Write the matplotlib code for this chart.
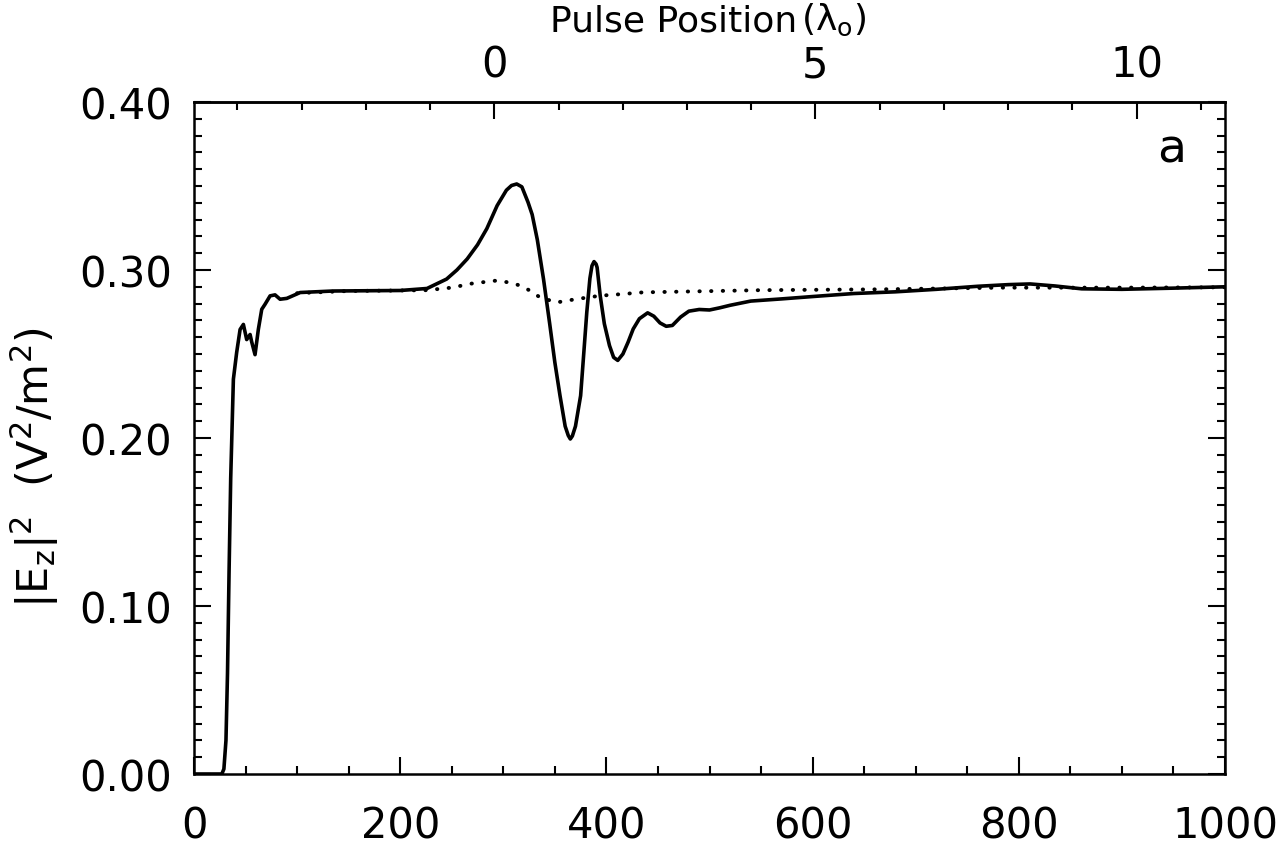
import numpy as np
import matplotlib.pyplot as plt
from matplotlib.ticker import MultipleLocator, FormatStrFormatter, FixedLocator

plt.rcParams['font.family'] = 'DejaVu Sans'
plt.rcParams['mathtext.default'] = 'regular'

# solid curve
solid_x = [0, 20, 27, 29, 31, 32.5, 34, 35.6, 38.2, 41.4, 44.7, 47.9, 51.1, 54.4, 56,
           59.2, 62.4, 65.7, 68.9, 73.8, 78.6, 83.5, 90, 103, 135, 200, 226, 245, 255,
           265, 275, 284, 294, 303, 308, 313, 318, 324, 328, 333, 339, 345, 350, 355,
           360, 363, 365, 367, 370, 375, 378, 381, 384, 386, 388, 390, 391, 394, 398,
           403, 407, 411, 416, 421, 426, 432, 440, 446, 452, 458, 464, 472, 480, 490,
           500, 510, 520, 540, 570, 600, 640, 680, 720, 760, 790, 811, 835, 861, 900,
           950, 1000]
solid_y = [0.0, 0.0, 0.0, 0.003, 0.02, 0.06, 0.12, 0.176, 0.235, 0.251, 0.2646, 0.2676,
           0.2586, 0.2616, 0.2571, 0.2496, 0.2646, 0.2766, 0.2796, 0.2846, 0.2852, 0.2826,
           0.2831, 0.2866, 0.2875, 0.2878, 0.289, 0.2946, 0.300, 0.3066, 0.315, 0.3246,
           0.3383, 0.3475, 0.3503, 0.3512, 0.3495, 0.3403, 0.333, 0.318, 0.2946, 0.268,
           0.245, 0.2252, 0.207, 0.2015, 0.1994, 0.2012, 0.207, 0.2252, 0.250, 0.275,
           0.295, 0.3025, 0.305, 0.3035, 0.3015, 0.2847, 0.268, 0.255, 0.248, 0.2462,
           0.250, 0.257, 0.2649, 0.271, 0.2745, 0.2725, 0.2685, 0.2665, 0.267, 0.272,
           0.2755, 0.2765, 0.2762, 0.2775, 0.279, 0.2815, 0.2828, 0.2842, 0.286, 0.287,
           0.2885, 0.2903, 0.2913, 0.2917, 0.2905, 0.2888, 0.2885, 0.2892, 0.290]

# dotted curve
dot_x = [100, 150, 200, 226, 250, 270, 293.6, 306.5, 316, 326, 335.6, 351.8, 371, 394,
         416, 435.5, 550, 666, 784, 900, 1000]
dot_y = [0.2862, 0.2875, 0.2878, 0.2880, 0.2895, 0.2920, 0.2937, 0.2925, 0.2908, 0.2877,
         0.2837, 0.2807, 0.2827, 0.2847, 0.2857, 0.2867, 0.288, 0.2885, 0.2895, 0.2895,
         0.2897]

pos_ticks = [0, 5, 10]

fig = plt.figure(figsize=(12.88, 8.53), dpi=100)
ax = fig.add_axes([194 / 1288, 1 - 775 / 853, (1225 - 194) / 1288, (775 - 103) / 853])

ax.plot(solid_x, solid_y, color='black', lw=2.6)
ax.plot(dot_x, dot_y, color='black', lw=2.8, linestyle=(0, (0.1, 2.9)),
        dash_capstyle='round')

ax.set_xlim(0, 1000)
ax.set_ylim(0, 0.40)
ax.xaxis.set_major_locator(MultipleLocator(200))
ax.xaxis.set_minor_locator(MultipleLocator(50))
ax.yaxis.set_major_locator(MultipleLocator(0.1))
ax.yaxis.set_minor_locator(MultipleLocator(0.01))
ax.yaxis.set_major_formatter(FormatStrFormatter('%.2f'))

for s in ax.spines.values():
    s.set_linewidth(1.8)
ax.tick_params(which='both', direction='in', top=False, right=True, width=1.5,
               labelsize=30)
ax.tick_params(which='major', length=12)
ax.tick_params(which='minor', length=6)
ax.tick_params(axis='x', pad=22)
ax.tick_params(axis='y', pad=16)

# pulse position axis on top
def to_pos(x):
    return (np.asarray(x) - 291.3) / 62.3

def to_x(p):
    return np.asarray(p) * 62.3 + 291.3

sec = ax.secondary_xaxis('top', functions=(to_pos, to_x))
sec.xaxis.set_major_locator(FixedLocator(pos_ticks))
sec.xaxis.set_minor_locator(MultipleLocator(1))
sec.tick_params(which='both', direction='in', width=1.5, labelsize=30, pad=12)
sec.tick_params(which='major', length=12)
sec.tick_params(which='minor', length=6)
sec.spines['top'].set_linewidth(1.8)

fig.text(797 / 1288, 1 - 31 / 853, 'Pulse Position', fontsize=26,
         ha='right', va='baseline')
fig.text(801 / 1288, 1 - 2 / 853, r'($\lambda_o$)', fontsize=26,
         ha='left', va='top')

fig.text(1172 / 1288, 1 - 150 / 853, 'a', fontsize=34, ha='center', va='center')

fig.text(35 / 1288, 1 - 468 / 853, r'$|E_z|^2$  $(V^2/m^2)$', fontsize=31,
         rotation=90, ha='center', va='center')

fig.savefig('out.png', dpi=100)
